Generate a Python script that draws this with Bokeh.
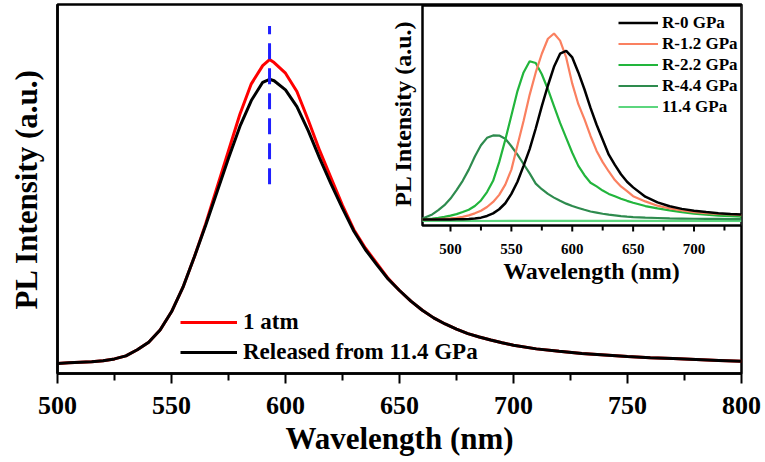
import math
from bokeh.plotting import figure
from bokeh.models import Range1d, FixedTicker, Legend, LegendItem
from bokeh.core.properties import value
from bokeh.embed import file_html
from bokeh.resources import INLINE

FONT = "Liberation Serif"

# ---------------- main panel data ----------------
wl_main = [500, 505, 510, 515, 520, 525, 530, 535, 540, 545, 550, 555, 560, 565,
           570, 575, 580, 585, 590, 593, 595, 600, 605, 610, 615, 620, 625, 630,
           635, 640, 645, 650, 655, 660, 665, 670, 675, 680, 685, 690, 695, 700,
           710, 720, 730, 740, 750, 760, 770, 780, 790, 800]
pl_1atm = [0.000, 0.002, 0.004, 0.006, 0.009, 0.015, 0.025, 0.045, 0.070, 0.110,
           0.170, 0.250, 0.350, 0.460, 0.580, 0.700, 0.820, 0.920, 0.980, 1.000,
           0.990, 0.955, 0.895, 0.800, 0.700, 0.610, 0.520, 0.440, 0.380, 0.330,
           0.280, 0.240, 0.205, 0.175, 0.150, 0.130, 0.113, 0.098, 0.087, 0.077,
           0.068, 0.060, 0.048, 0.040, 0.033, 0.028, 0.023, 0.019, 0.016, 0.013,
           0.010, 0.007]
pl_released = [0.000, 0.002, 0.004, 0.006, 0.009, 0.015, 0.025, 0.045, 0.070, 0.110,
               0.170, 0.250, 0.350, 0.455, 0.565, 0.675, 0.780, 0.865, 0.925, 0.935,
               0.930, 0.900, 0.845, 0.765, 0.675, 0.590, 0.510, 0.435, 0.375, 0.325,
               0.278, 0.240, 0.205, 0.175, 0.150, 0.130, 0.113, 0.098, 0.087, 0.077,
               0.068, 0.060, 0.048, 0.040, 0.033, 0.028, 0.023, 0.019, 0.016, 0.013,
               0.010, 0.007]
peak_line_x = [593, 593]
peak_line_y = [0.59, 1.11]
main_labels = ["1 atm", "Released from 11.4 GPa"]
main_major_ticks = [500, 550, 600, 650, 700, 750, 800]
main_minor_ticks = [525, 575, 625, 675, 725, 775]

# ---------------- inset data ----------------
wl_inset = [477, 485, 490, 495, 500, 505, 510, 515, 520, 525, 530, 535, 540, 545,
            550, 555, 560, 565, 570, 575, 580, 585, 590, 595, 600, 605, 610, 615,
            620, 625, 630, 635, 640, 645, 650, 660, 670, 680, 690, 700, 710, 720,
            730, 739]
r_0 = [0.003, 0.003, 0.003, 0.003, 0.003, 0.004, 0.005, 0.006, 0.008, 0.013, 0.022,
       0.036, 0.058, 0.090, 0.140, 0.205, 0.290, 0.380, 0.490, 0.610, 0.720, 0.820,
       0.890, 0.905, 0.870, 0.790, 0.700, 0.600, 0.510, 0.430, 0.350, 0.295, 0.245,
       0.205, 0.175, 0.125, 0.095, 0.074, 0.060, 0.050, 0.043, 0.037, 0.033, 0.030]
r_1p2 = [0.003, 0.004, 0.005, 0.007, 0.009, 0.012, 0.017, 0.025, 0.036, 0.050, 0.070,
         0.097, 0.135, 0.190, 0.270, 0.400, 0.530, 0.670, 0.790, 0.890, 0.970, 0.998,
         0.960, 0.870, 0.730, 0.620, 0.540, 0.450, 0.370, 0.310, 0.260, 0.214, 0.180,
         0.155, 0.128, 0.100, 0.077, 0.062, 0.052, 0.043, 0.037, 0.033, 0.030, 0.027]
r_2p2 = [0.004, 0.008, 0.012, 0.017, 0.024, 0.032, 0.043, 0.055, 0.075, 0.105, 0.150,
         0.210, 0.310, 0.430, 0.560, 0.690, 0.790, 0.850, 0.840, 0.780, 0.700, 0.610,
         0.520, 0.440, 0.360, 0.290, 0.240, 0.200, 0.180, 0.158, 0.140, 0.127, 0.114,
         0.103, 0.093, 0.075, 0.063, 0.052, 0.043, 0.035, 0.029, 0.024, 0.021, 0.018]
r_4p4 = [0.008, 0.030, 0.053, 0.080, 0.115, 0.160, 0.210, 0.270, 0.340, 0.400, 0.440,
         0.453, 0.452, 0.435, 0.395, 0.350, 0.300, 0.250, 0.195, 0.165, 0.140, 0.120,
         0.103, 0.088, 0.075, 0.065, 0.055, 0.046, 0.040, 0.034, 0.029, 0.025, 0.021,
         0.018, 0.016, 0.013, 0.011, 0.009, 0.008, 0.007, 0.006, 0.006, 0.005, 0.005]
wl_11p4 = [477, 520, 560, 600, 640, 680, 739]
r_11p4 = [-0.005, -0.005, -0.004, -0.004, -0.004, -0.004, -0.004]
inset_labels = ["R-0 GPa", "R-1.2 GPa", "R-2.2 GPa", "R-4.4 GPa", "11.4 GPa"]
inset_major_ticks = [500, 550, 600, 650, 700]
inset_minor_ticks = [525, 575, 625, 675, 725]
inset_tick_labels = ["500", "550", "600", "650", "700"]

# ---------------- layout geometry (pixels) ----------------
F_LEFT, F_RIGHT, F_TOP, F_BOTTOM = 57, 741, 4, 373          # main frame
I_LEFT, I_RIGHT, I_TOP, I_BOTTOM = 422, 741, 5, 225         # inset frame
IX0, IX1 = 477, 739                                         # inset x range
IY0, IY1 = -0.029, 1.148                                    # inset y range

ux = (IX1 - IX0) / (I_RIGHT - I_LEFT)     # nm per pixel in inset
uy = (IY1 - IY0) / (I_BOTTOM - I_TOP)     # units per pixel in inset

p = figure(frame_width=F_RIGHT - F_LEFT, frame_height=F_BOTTOM - F_TOP,
           x_range=Range1d(500, 800), y_range=Range1d(-0.033, 1.181),
           output_backend="svg", toolbar_location=None,
           min_border_left=F_LEFT, min_border_right=765 - F_RIGHT,
           min_border_top=F_TOP, min_border_bottom=462 - F_BOTTOM)
p.extra_x_ranges = {"ix": Range1d(IX0 - (I_LEFT - F_LEFT) * ux,
                                  IX1 + (F_RIGHT - I_RIGHT) * ux)}
p.extra_y_ranges = {"iy": Range1d(IY0 - (F_BOTTOM - I_BOTTOM) * uy,
                                  IY1 + (I_TOP - F_TOP) * uy)}

# ---- main axes ----
ax = p.xaxis[0]
ax.ticker = FixedTicker(ticks=main_major_ticks, minor_ticks=main_minor_ticks)
ax.axis_line_width = 2.5
ax.major_tick_out, ax.major_tick_in = 10, 0
ax.minor_tick_out, ax.minor_tick_in = 7, 0
ax.major_tick_line_width = 2
ax.minor_tick_line_width = 2
ax.major_label_text_font = FONT
ax.major_label_text_font_style = "bold"
ax.major_label_text_font_size = "26px"
ax.major_label_text_color = "black"
ax.major_label_standoff = 13
ax.axis_label = "Wavelength (nm)"
ax.axis_label_text_font = FONT
ax.axis_label_text_font_style = "bold"
ax.axis_label_text_font_size = "31px"
ax.axis_label_text_color = "black"
ax.axis_label_standoff = 4
ay = p.yaxis[0]
ay.ticker = FixedTicker(ticks=[])
ay.axis_line_width = 2.5
ay.major_tick_out = 0
ay.minor_tick_out = 0
ay.axis_label = "PL Intensity (a.u.)"
ay.axis_label_text_font = FONT
ay.axis_label_text_font_style = "bold"
ay.axis_label_text_font_size = "31px"
ay.axis_label_text_color = "black"
ay.axis_label_standoff = 14
p.grid.visible = False
p.outline_line_color = "black"
p.outline_line_width = 2.5

# ---- main curves ----
l_atm = p.line(wl_main, pl_1atm, line_color="#FF0000", line_width=3)
l_rel = p.line(wl_main, pl_released, line_color="black", line_width=3)
p.line(peak_line_x, peak_line_y, line_color="#1F1FFF", line_width=3, line_dash="16 9")

leg = Legend(items=[LegendItem(label=main_labels[0], renderers=[l_atm]),
                    LegendItem(label=main_labels[1], renderers=[l_rel])],
             location=(123, 8), padding=0, margin=0, spacing=4,
             glyph_width=57, glyph_height=26, label_height=26, label_standoff=6,
             label_text_font=FONT, label_text_font_style="bold",
             label_text_font_size="23px", label_text_color="black",
             border_line_color=None, background_fill_alpha=0)
p.add_layout(leg)

# ---------------- inset (drawn on the inset ranges) ----------------
R = dict(x_range_name="ix", y_range_name="iy")
p.quad(left=[IX0], right=[IX1], bottom=[IY0], top=[IY1], fill_color="white",
       line_color="black", line_width=2.5, **R)

n_maj, n_min = len(inset_major_ticks), len(inset_minor_ticks)
p.segment(x0=inset_major_ticks, y0=[IY0] * n_maj, x1=inset_major_ticks,
          y1=[IY0 - 6 * uy] * n_maj, line_color="black", line_width=2, **R)
p.segment(x0=inset_minor_ticks, y0=[IY0] * n_min, x1=inset_minor_ticks,
          y1=[IY0 - 5 * uy] * n_min, line_color="black", line_width=2, **R)
p.text(x=inset_major_ticks, y=[IY0 - 23 * uy] * n_maj, text=inset_tick_labels,
       text_font=value(FONT), text_font_style="bold", text_font_size=value("15px"),
       text_color="black", text_align="center", text_baseline="middle", **R)
p.text(x=[IX0 + (591 - I_LEFT) * ux], y=[IY0 - 45 * uy], text=["Wavelength (nm)"],
       text_font=value(FONT), text_font_style="bold", text_font_size=value("24px"),
       text_color="black", text_align="center", text_baseline="middle", **R)
p.text(x=[IX0 - 20 * ux], y=[IY1 - (113 - I_TOP) * uy], text=["PL Intensity (a.u.)"],
       angle=math.pi / 2, text_font=value(FONT), text_font_style="bold",
       text_font_size=value("24px"), text_color="black", text_align="center",
       text_baseline="middle", **R)

c_114 = p.line(wl_11p4, r_11p4, line_color="#5CD67E", line_width=2.2, **R)
c_44 = p.line(wl_inset, r_4p4, line_color="#2E8B4E", line_width=2.2, **R)
c_22 = p.line(wl_inset, r_2p2, line_color="#22B53C", line_width=2.2, **R)
c_12 = p.line(wl_inset, r_1p2, line_color="#FA8060", line_width=2.2, **R)
c_0 = p.line(wl_inset, r_0, line_color="black", line_width=2.5, **R)

leg2 = Legend(items=[LegendItem(label=inset_labels[0], renderers=[c_0]),
                     LegendItem(label=inset_labels[1], renderers=[c_12]),
                     LegendItem(label=inset_labels[2], renderers=[c_22]),
                     LegendItem(label=inset_labels[3], renderers=[c_44]),
                     LegendItem(label=inset_labels[4], renderers=[c_114])],
              location=(618 - F_LEFT, F_BOTTOM - 117), padding=0, margin=0,
              spacing=0, glyph_width=40, glyph_height=21, label_height=21,
              label_standoff=4, label_text_font=FONT, label_text_font_style="bold",
              label_text_font_size="17px", label_text_color="black",
              border_line_color=None, background_fill_alpha=0)
p.add_layout(leg2)

with open("out.html", "w") as f:
    f.write(file_html(p, INLINE))
